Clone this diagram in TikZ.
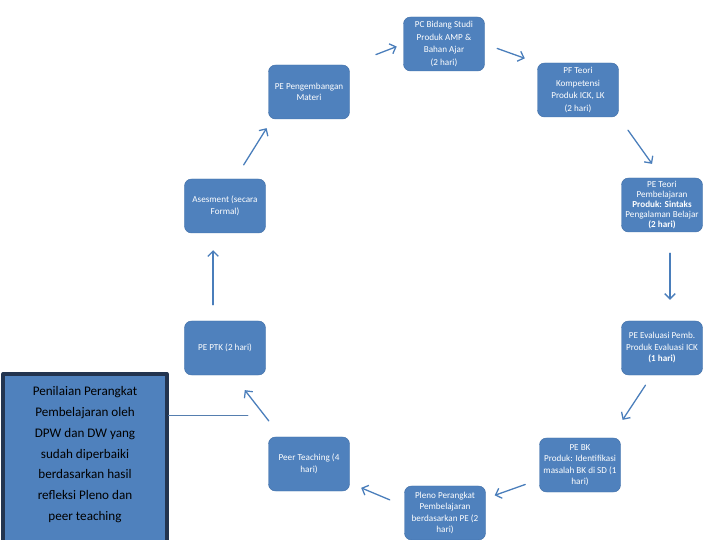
\documentclass[tikz,border=0pt]{standalone}
\usepackage{fontspec}
\setmainfont{Carlito}
\usetikzlibrary{arrows.meta}

\definecolor{boxblue}{HTML}{4F81BD}
\definecolor{boxedge}{HTML}{3F6EA6}
\definecolor{noteedge}{HTML}{22344F}
\definecolor{flowblue}{HTML}{4A7EBB}

\tikzset{
  stage/.style={rectangle, rounded corners=6pt, fill=boxblue, draw=boxedge, line width=0.4pt,
    minimum width=2.43cm, minimum height=1.62cm, inner sep=1pt, align=center, text=white,
    font=\fontsize{7.8}{9.8}\selectfont},
  note/.style={rectangle, fill=boxblue, draw=noteedge, line width=3.2pt,
    minimum width=4.9cm, inner ysep=11pt, align=center, text=black,
    font=\fontsize{11.2}{17.7}\selectfont},
  flow/.style={draw=flowblue, line width=1.1pt, -{Straight Barb[length=4.5pt,width=9pt]}},
  link/.style={draw=flowblue!80!gray, line width=0.6pt}
}

\begin{document}
\begin{tikzpicture}[x=0.03cm, y=-0.03cm, line cap=round, line join=round]
  \useasboundingbox (0,0) rectangle (720,540);
  \clip (0,0) rectangle (720,540);

  % stages of the cycle
  \node[stage, font=\fontsize{7.8}{10.8}\selectfont] (b1) at (444,44) {PC Bidang Studi\\Produk AMP \&\\Bahan Ajar\\(2 hari)};
  \node[stage, font=\fontsize{7.8}{10.8}\selectfont] (b2) at (578,90) {PF Teori\\Kompetensi\\Produk ICK, LK\\(2 hari)};
  \node[stage, font=\fontsize{7.8}{8.6}\selectfont] (b3) at (662,205) {PE Teori\\Pembelajaran\\\textbf{Produk: Sintaks}\\Pengalaman Belajar\\\textbf{(2 hari)}};
  \node[stage] (b4) at (662,348) {PE Evaluasi Pemb.\\Produk Evaluasi ICK\\\textbf{(1 hari)}};
  \node[stage] (b5) at (580,465) {PE BK\\Produk: Identifikasi\\masalah BK di SD (1\\hari)};
  \node[stage] (b6) at (445,513) {Pleno Perangkat\\Pembelajaran\\berdasarkan PE (2\\hari)};
  \node[stage] (b7) at (309,464) {Peer Teaching (4\\hari)};
  \node[stage] (b8) at (225,348) {PE PTK (2 hari)};
  \node[stage] (b9) at (225,206) {Asesment (secara\\Formal)};
  \node[stage] (b10) at (309,92) {PE Pengembangan\\Materi};

  % note on the left
  \node[note, anchor=north] (note) at (85,372) {Penilaian Perangkat\\Pembelajaran oleh\\DPW dan DW yang\\sudah diperbaiki\\berdasarkan hasil\\refleksi Pleno dan\\peer teaching\\[6pt]};

  % arrows round the cycle
  \draw[flow, shorten <=24pt, shorten >=6pt] (b10.north east) -- (b1.west);
  \draw[flow, shorten <=11.3pt, shorten >=11.3pt] (b1.east) -- (b2.north west);
  \draw[flow, shorten <=13.6pt, shorten >=14.6pt] (b2.south east) -- (b3.north);
  \draw[flow, shorten <=17.9pt, shorten >=17.9pt] ([xshift=6.8pt]b3.south) -- ([xshift=6.8pt]b4.north);
  \draw[flow, shorten <=10.2pt, shorten >=18.3pt] ([xshift=-8.5pt]b4.south) -- ([xshift=-8.5pt]b5.north east);
  \draw[flow, shorten <=49.6pt, shorten >=45pt] (b5.center) -- (b6.center);
  \draw[flow, shorten <=13.4pt, shorten >=10.6pt] ([yshift=6pt]b6.west) -- ([yshift=7pt]b7.south east);
  \draw[flow, shorten <=17.2pt, shorten >=16.1pt] ([xshift=11pt]b7.north west) -- ([xshift=7pt]b8.south);
  \draw[flow, shorten <=13.6pt, shorten >=14.5pt] ([xshift=-10.2pt]b8.north) -- ([xshift=-10.2pt]b9.south);
  \draw[flow, shorten <=14pt, shorten >=9pt] ([xshift=8.5pt]b9.north) -- ([xshift=3.4pt]b10.south west);

  % line from the note
  \coordinate (meet) at (248,415);
  \draw[link] (meet -| note.east) -- (meet);
\end{tikzpicture}
\end{document}
